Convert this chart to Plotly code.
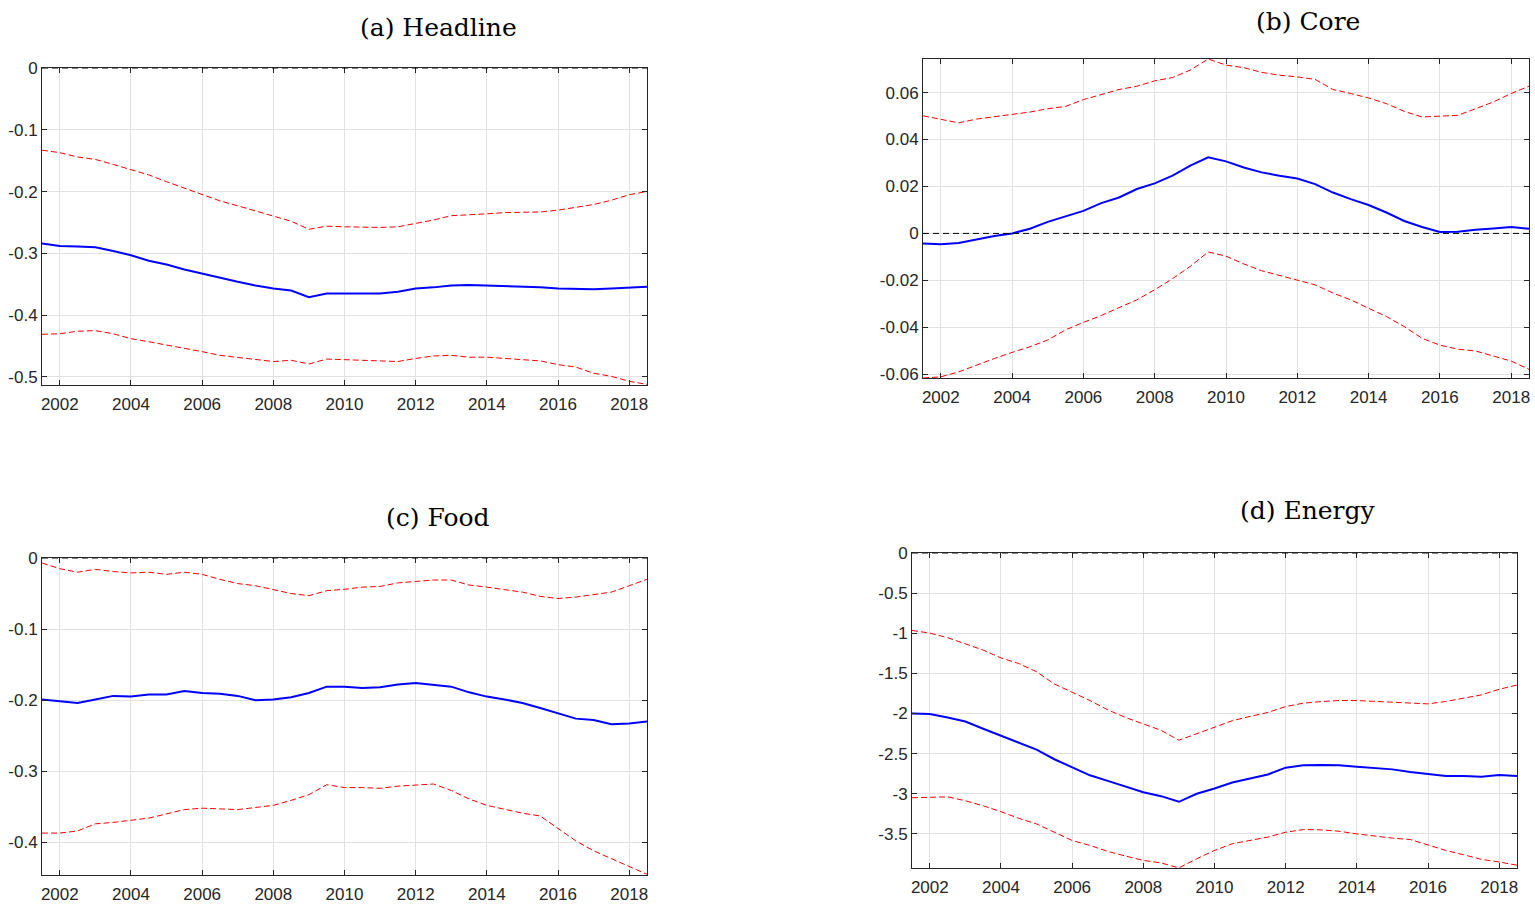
import plotly.graph_objects as go

# ---------------- data (half-yearly) ----------------
years = [2001.5, 2002.0, 2002.5, 2003.0, 2003.5, 2004.0, 2004.5, 2005.0, 2005.5,
         2006.0, 2006.5, 2007.0, 2007.5, 2008.0, 2008.5, 2009.0, 2009.5, 2010.0,
         2010.5, 2011.0, 2011.5, 2012.0, 2012.5, 2013.0, 2013.5, 2014.0, 2014.5,
         2015.0, 2015.5, 2016.0, 2016.5, 2017.0, 2017.5, 2018.0, 2018.5]

headline_est = [-0.284, -0.288, -0.289, -0.290, -0.296, -0.303, -0.312, -0.318, -0.326,
                -0.333, -0.339, -0.346, -0.352, -0.357, -0.360, -0.371, -0.365, -0.365,
                -0.364, -0.365, -0.362, -0.357, -0.355, -0.352, -0.351, -0.352, -0.352,
                -0.353, -0.355, -0.357, -0.358, -0.358, -0.357, -0.355, -0.354]
headline_upper = [-0.133, -0.137, -0.144, -0.148, -0.156, -0.165, -0.173, -0.184, -0.194,
                  -0.204, -0.215, -0.223, -0.231, -0.239, -0.248, -0.261, -0.256, -0.257,
                  -0.258, -0.258, -0.257, -0.252, -0.246, -0.239, -0.238, -0.236, -0.234,
                  -0.234, -0.233, -0.230, -0.226, -0.221, -0.214, -0.205, -0.200]
headline_lower = [-0.431, -0.430, -0.426, -0.425, -0.430, -0.438, -0.443, -0.448, -0.453,
                  -0.459, -0.465, -0.468, -0.472, -0.475, -0.473, -0.479, -0.471, -0.472,
                  -0.472, -0.474, -0.475, -0.470, -0.466, -0.465, -0.468, -0.468, -0.470,
                  -0.472, -0.474, -0.480, -0.484, -0.494, -0.499, -0.507, -0.512]

core_est = [-0.0043, -0.0046, -0.0041, -0.0026, -0.0011, 0.0000, 0.0020, 0.0049, 0.0074,
            0.0096, 0.0129, 0.0153, 0.0189, 0.0213, 0.0246, 0.0289, 0.0324, 0.0307,
            0.0281, 0.0260, 0.0246, 0.0234, 0.0210, 0.0174, 0.0146, 0.0121, 0.0089,
            0.0053, 0.0027, 0.0006, 0.0007, 0.0016, 0.0021, 0.0027, 0.0020]
core_upper = [0.0501, 0.0486, 0.0471, 0.0487, 0.0496, 0.0507, 0.0517, 0.0531, 0.0541,
              0.0570, 0.0591, 0.0613, 0.0627, 0.0650, 0.0664, 0.0696, 0.0743, 0.0717,
              0.0706, 0.0686, 0.0674, 0.0667, 0.0656, 0.0613, 0.0596, 0.0577, 0.0553,
              0.0520, 0.0496, 0.0499, 0.0503, 0.0531, 0.0560, 0.0596, 0.0627]
core_lower = [-0.0616, -0.0611, -0.0590, -0.0561, -0.0533, -0.0507, -0.0483, -0.0454, -0.0411,
              -0.0379, -0.0350, -0.0316, -0.0283, -0.0240, -0.0193, -0.0140, -0.0079, -0.0097,
              -0.0130, -0.0159, -0.0180, -0.0200, -0.0219, -0.0254, -0.0283, -0.0319, -0.0354,
              -0.0397, -0.0447, -0.0476, -0.0493, -0.0501, -0.0521, -0.0544, -0.0579]

food_est = [-0.199, -0.201, -0.204, -0.199, -0.194, -0.195, -0.192, -0.192, -0.187,
            -0.190, -0.191, -0.194, -0.200, -0.199, -0.196, -0.190, -0.181, -0.181,
            -0.183, -0.182, -0.178, -0.176, -0.178, -0.181, -0.189, -0.195, -0.199,
            -0.204, -0.211, -0.219, -0.226, -0.228, -0.234, -0.233, -0.230]
food_upper = [-0.007, -0.015, -0.020, -0.016, -0.019, -0.021, -0.020, -0.023, -0.020,
              -0.023, -0.030, -0.036, -0.039, -0.045, -0.050, -0.053, -0.046, -0.044,
              -0.041, -0.040, -0.035, -0.033, -0.031, -0.031, -0.038, -0.041, -0.044,
              -0.048, -0.054, -0.057, -0.055, -0.052, -0.048, -0.039, -0.030]
food_lower = [-0.387, -0.387, -0.384, -0.374, -0.372, -0.369, -0.366, -0.360, -0.354,
              -0.352, -0.353, -0.354, -0.351, -0.348, -0.341, -0.333, -0.319, -0.323,
              -0.323, -0.324, -0.321, -0.319, -0.318, -0.327, -0.339, -0.348, -0.354,
              -0.359, -0.363, -0.381, -0.398, -0.412, -0.423, -0.435, -0.445]

energy_est = [-2.000, -2.007, -2.050, -2.100, -2.190, -2.275, -2.366, -2.450, -2.570,
              -2.675, -2.770, -2.840, -2.910, -2.980, -3.030, -3.100, -3.000, -2.935,
              -2.860, -2.810, -2.760, -2.675, -2.646, -2.642, -2.646, -2.663, -2.675,
              -2.696, -2.730, -2.758, -2.778, -2.778, -2.787, -2.766, -2.778]
energy_upper = [-0.965, -0.998, -1.055, -1.130, -1.210, -1.307, -1.377, -1.480, -1.632,
                -1.735, -1.838, -1.954, -2.050, -2.130, -2.210, -2.333, -2.250, -2.168,
                -2.090, -2.036, -1.987, -1.913, -1.871, -1.851, -1.838, -1.838, -1.847,
                -1.855, -1.863, -1.880, -1.850, -1.810, -1.768, -1.698, -1.645]
energy_lower = [-3.050, -3.046, -3.038, -3.087, -3.150, -3.223, -3.306, -3.376, -3.479,
                -3.582, -3.644, -3.718, -3.776, -3.830, -3.862, -3.924, -3.810, -3.706,
                -3.623, -3.582, -3.540, -3.479, -3.446, -3.450, -3.467, -3.500, -3.530,
                -3.553, -3.570, -3.636, -3.706, -3.760, -3.817, -3.850, -3.890]

titles = ["(a) Headline", "(b) Core", "(c) Food", "(d) Energy"]

x_tick_vals = [2002, 2004, 2006, 2008, 2010, 2012, 2014, 2016, 2018]
x_tick_text = ["2002", "2004", "2006", "2008", "2010", "2012", "2014", "2016", "2018"]

headline_ticks = [0, -0.1, -0.2, -0.3, -0.4, -0.5]
headline_ticktext = ["0", "-0.1", "-0.2", "-0.3", "-0.4", "-0.5"]
core_ticks = [0.06, 0.04, 0.02, 0, -0.02, -0.04, -0.06]
core_ticktext = ["0.06", "0.04", "0.02", "0", "-0.02", "-0.04", "-0.06"]
food_ticks = [0, -0.1, -0.2, -0.3, -0.4]
food_ticktext = ["0", "-0.1", "-0.2", "-0.3", "-0.4"]
energy_ticks = [0, -0.5, -1, -1.5, -2, -2.5, -3, -3.5]
energy_ticktext = ["0", "-0.5", "-1", "-1.5", "-2", "-2.5", "-3", "-3.5"]

# ---------------- layout configuration ----------------
W, H = 1535, 904
panels = [
    dict(est=headline_est, up=headline_upper, lo=headline_lower,
         yrange=[-0.513, 0.0], tv=headline_ticks, tt=headline_ticktext,
         box=(42, 647, 68, 385), tpos=(438, 27)),
    dict(est=core_est, up=core_upper, lo=core_lower,
         yrange=[-0.0616, 0.0743], tv=core_ticks, tt=core_ticktext,
         box=(923, 1529, 59, 378), tpos=(1308, 22)),
    dict(est=food_est, up=food_upper, lo=food_lower,
         yrange=[-0.446, 0.0], tv=food_ticks, tt=food_ticktext,
         box=(42, 647, 558, 875), tpos=(438, 517)),
    dict(est=energy_est, up=energy_upper, lo=energy_lower,
         yrange=[-3.925, 0.0], tv=energy_ticks, tt=energy_ticktext,
         box=(912, 1517, 553, 868), tpos=(1308, 511)),
]

AX = "#262626"
GRID = "#e2e2e2"
TICKFONT = dict(family="Liberation Sans, Arial, sans-serif", size=17, color=AX)

fig = go.Figure()
layout = dict(width=W, height=H, autosize=False, margin=dict(l=0, r=0, t=0, b=0, pad=0),
              paper_bgcolor="white", plot_bgcolor="white", showlegend=False,
              annotations=[], shapes=[])

for i, p in enumerate(panels):
    n = "" if i == 0 else str(i + 1)
    xa, ya = "x" + n, "y" + n
    x0, x1, y0, y1 = p["box"]
    layout["xaxis" + n] = dict(
        domain=[x0 / W, x1 / W], range=[2001.5, 2018.5], anchor=ya, automargin=False,
        tickvals=x_tick_vals, ticktext=x_tick_text, tickfont=TICKFONT,
        ticklabelstandoff=4,
        showgrid=True, gridcolor=GRID, gridwidth=1, zeroline=False,
        showline=True, linecolor=AX, linewidth=1, mirror="ticks",
        ticks="inside", ticklen=5, tickcolor=AX, tickwidth=1)
    layout["yaxis" + n] = dict(
        domain=[1 - y1 / H, 1 - y0 / H], range=p["yrange"], anchor=xa, automargin=False,
        tickvals=p["tv"], ticktext=p["tt"], tickfont=TICKFONT,
        showgrid=True, gridcolor=GRID, gridwidth=1, zeroline=False,
        showline=True, linecolor=AX, linewidth=1, mirror="ticks",
        ticks="inside", ticklen=5, tickcolor=AX, tickwidth=1)

    fig.add_trace(go.Scatter(x=years, y=p["up"], mode="lines", xaxis=xa, yaxis=ya,
                             line=dict(color="#ff0000", width=1, dash="6px,3px")))
    fig.add_trace(go.Scatter(x=years, y=p["lo"], mode="lines", xaxis=xa, yaxis=ya,
                             line=dict(color="#ff0000", width=1, dash="6px,3px")))
    fig.add_trace(go.Scatter(x=years, y=p["est"], mode="lines", xaxis=xa, yaxis=ya,
                             line=dict(color="#0000ff", width=2)))

    layout["shapes"].append(dict(type="line", xref=xa + " domain", yref=ya,
                                 x0=0, x1=1, y0=0, y1=0,
                                 line=dict(color="black", width=1, dash="6px,4px")))
    tx, ty = p["tpos"]
    layout["annotations"].append(dict(
        text=titles[i], xref="paper", yref="paper", x=tx / W, y=1 - ty / H,
        xanchor="center", yanchor="middle", showarrow=False,
        font=dict(family="DejaVu Serif, Liberation Serif, serif", size=25, color="black")))

fig.update_layout(**layout)
fig.write_html("out.html", config={"responsive": False, "displayModeBar": False},
               post_script="document.body.style.margin='0';"
                           "document.body.style.overflow='hidden';")
